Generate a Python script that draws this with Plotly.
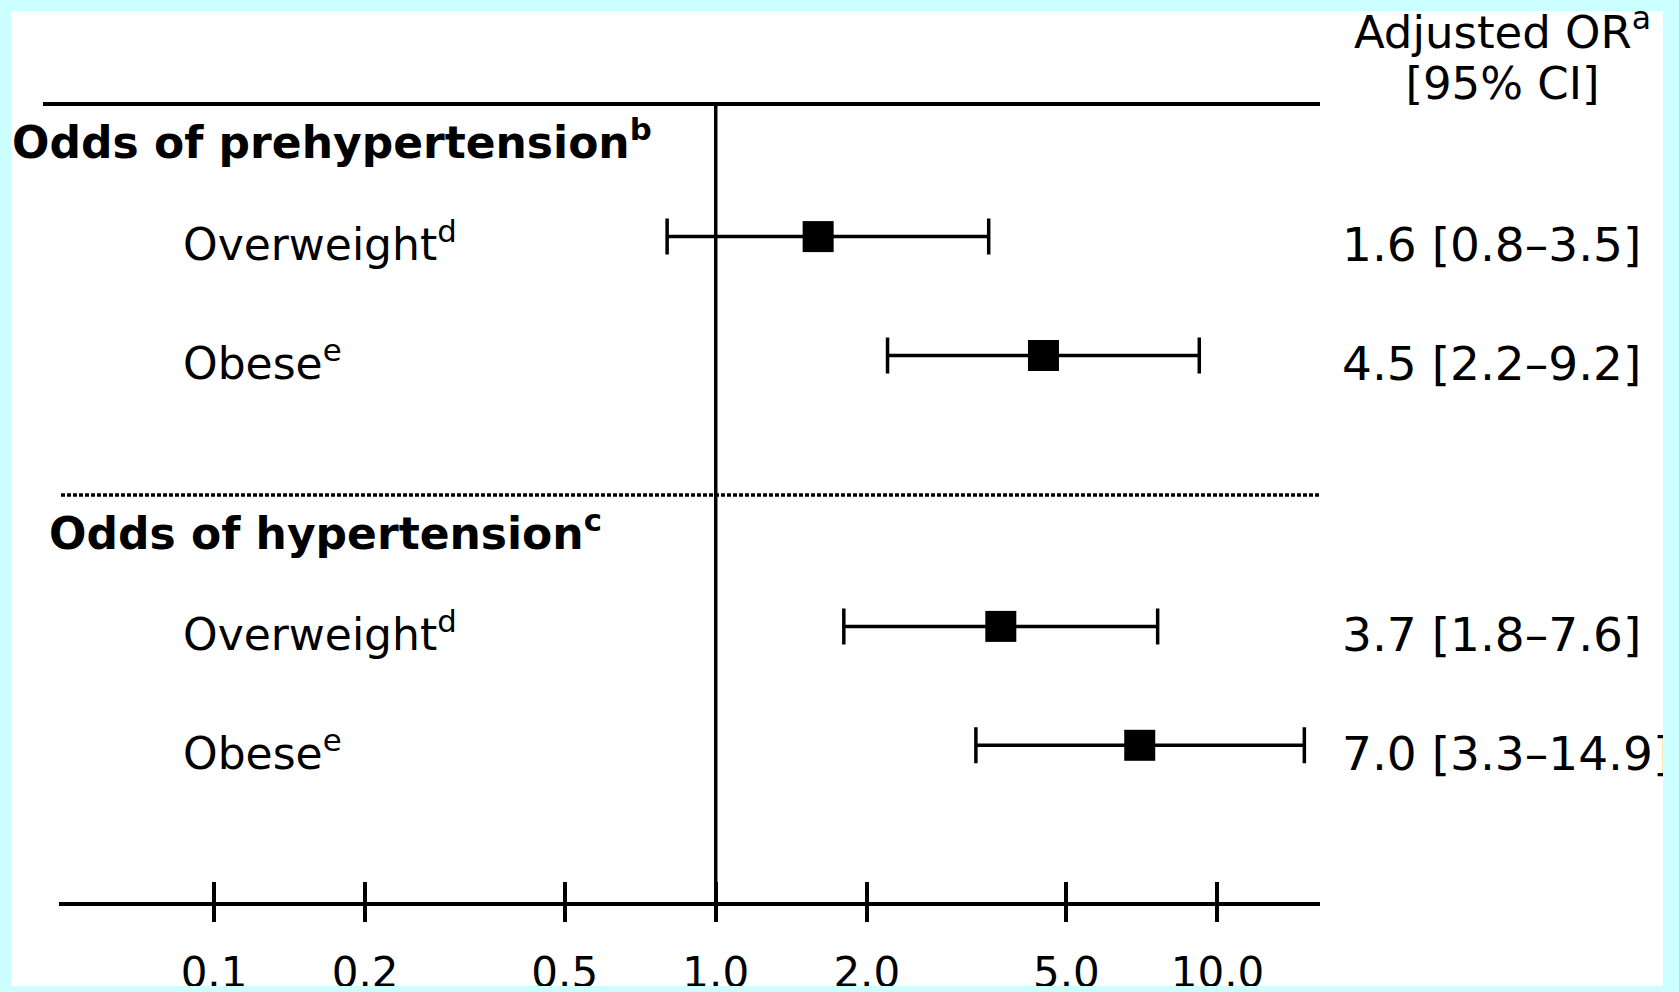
import plotly.graph_objects as go

# ---------------- data ----------------
group_names = ["Odds of prehypertension", "Odds of hypertension"]
group_notes = ["b", "c"]
row_names = ["Overweight", "Obese", "Overweight", "Obese"]
row_notes = ["d", "e", "d", "e"]
row_group = [0, 0, 1, 1]
or_est = [1.6, 4.5, 3.7, 7.0]
ci_low = [0.8, 2.2, 1.8, 3.3]
ci_high = [3.5, 9.2, 7.6, 14.9]
tick_vals = [0.1, 0.2, 0.5, 1.0, 2.0, 5.0, 10.0]
tick_text = ["0.1", "0.2", "0.5", "1.0", "2.0", "5.0", "10.0"]
ref_value = 1.0
header_lines = ["Adjusted OR<sup>a</sup>", "[95% CI]"]

# ---------------- layout helpers (pixel geometry) ----------------
FONT = "DejaVu Sans"
W, H = 1679, 992
ML, MR, MT, MB = 59, 16, 0, 90
PW, PH = W - ML - MR, H - MT - MB
ROW_PX = 118.9
FRAME_COLOR = "#CCFFFF"
TOP_LINE_PX = 104


def px_x(p):
    return (p - ML) / PW


def px_y(p):
    return (H - MB - p) / PH


def yu(p):
    return (p - MT) / ROW_PX


Y_MAX = PH / ROW_PX
GROUP_FIRST = [yu(236.6), yu(626.4)]
HEAD_Y = [yu(139), yu(530)]
SEP_Y = yu(495)
ANN_DY = 5 / ROW_PX
TXT_DY = 13 / ROW_PX
LOG_RANGE = [-1.309, 1.2044]

row_y = []
counts = {}
for g in row_group:
    k = counts.get(g, 0)
    row_y.append(GROUP_FIRST[g] + k)
    counts[g] = k + 1

err_plus = [h - e for h, e in zip(ci_high, or_est)]
err_minus = [e - l for e, l in zip(or_est, ci_low)]
ci_text = [f"{e:.1f} [{l:.1f}\u2013{h:.1f}]" for e, l, h in zip(or_est, ci_low, ci_high)]

fig = go.Figure()

# reference line at OR = 1
fig.add_trace(go.Scatter(
    x=[ref_value, ref_value], y=[yu(TOP_LINE_PX), Y_MAX], mode="lines",
    line=dict(color="black", width=3.5), xaxis="x2", yaxis="y",
    hoverinfo="skip", showlegend=False))

# point estimates with CIs
fig.add_trace(go.Scatter(
    x=or_est, y=row_y, mode="markers",
    marker=dict(symbol="square", size=31, color="black"),
    error_x=dict(type="data", symmetric=False, array=err_plus, arrayminus=err_minus,
                 color="black", thickness=3.5, width=18),
    xaxis="x", yaxis="y", showlegend=False))

# right-hand column
fig.add_trace(go.Scatter(
    x=[0] * len(ci_text), y=[r + TXT_DY for r in row_y], mode="text",
    text=ci_text, textposition="middle right",
    textfont=dict(family=FONT, size=47, color="black"),
    xaxis="x3", yaxis="y", cliponaxis=False, showlegend=False, hoverinfo="skip"))
fig.add_trace(go.Scatter(
    x=[0.5, 0.5], y=[yu(37), yu(88)], mode="text",
    text=header_lines, textposition="middle center",
    textfont=dict(family=FONT, size=45, color="black"),
    xaxis="x3", yaxis="y", cliponaxis=False, showlegend=False, hoverinfo="skip"))

annotations = []
head_x = [px_x(10), px_x(47)]
for g, name in enumerate(group_names):
    annotations.append(dict(
        x=head_x[g], xref="paper", xanchor="left",
        y=HEAD_Y[g], yref="y", yanchor="middle",
        text=f"<b>{name}<sup>{group_notes[g]}</sup></b>", showarrow=False,
        font=dict(family=FONT, size=44, color="black")))
for name, note, y in zip(row_names, row_notes, row_y):
    annotations.append(dict(
        x=px_x(181), xref="paper", xanchor="left",
        y=y + ANN_DY, yref="y", yanchor="middle",
        text=f"{name}<sup>{note}</sup>", showarrow=False,
        font=dict(family=FONT, size=44, color="black")))

shapes = [
    dict(type="line", xref="paper", yref="y", x0=px_x(43), x1=px_x(1320),
         y0=yu(TOP_LINE_PX), y1=yu(TOP_LINE_PX), line=dict(color="black", width=4)),
    dict(type="line", xref="paper", yref="y", x0=px_x(61), x1=px_x(1320),
         y0=SEP_Y, y1=SEP_Y, line=dict(color="black", width=3.5, dash="4px,2px")),
]
# light cyan frame (drawn above the plot so it trims text at the edges)
frame = [(-5, -5, 11, H + 5), (-5, -5, W + 5, 11), (1663, -5, W + 5, H + 5), (-5, 986, W + 5, H + 5)]
for x0, y0, x1, y1 in frame:
    shapes.append(dict(type="rect", xref="paper", yref="paper", layer="above",
                       x0=px_x(x0), x1=px_x(x1), y0=px_y(y1), y1=px_y(y0),
                       fillcolor=FRAME_COLOR, line=dict(width=0)))

fig.update_layout(
    width=W, height=H,
    margin=dict(l=ML, r=MR, t=MT, b=MB, pad=0, autoexpand=False),
    paper_bgcolor="white", plot_bgcolor="white",
    showlegend=False,
    xaxis=dict(type="log", domain=[0, px_x(1320)], range=LOG_RANGE,
               tickmode="array", tickvals=tick_vals, ticktext=tick_text,
               ticks="outside", ticklen=16, tickwidth=3.5, tickcolor="black",
               showline=True, linewidth=4, linecolor="black",
               showgrid=False, zeroline=False, anchor="y", automargin=False,
               ticklabelstandoff=15,
               tickfont=dict(family=FONT, size=42, color="black")),
    xaxis2=dict(type="log", overlaying="x", range=LOG_RANGE, anchor="y", side="bottom",
                tickmode="array", tickvals=tick_vals, ticks="inside", ticklen=20,
                tickwidth=3.5, tickcolor="black", showticklabels=False, automargin=False,
                showline=False, showgrid=False, zeroline=False),
    xaxis3=dict(domain=[px_x(1342), 1], range=[0, 1], visible=False, anchor="y",
                automargin=False),
    yaxis=dict(range=[Y_MAX, 0], visible=False, domain=[0, 1], automargin=False),
    annotations=annotations,
    shapes=shapes,
)

fig.write_html("out.html")
